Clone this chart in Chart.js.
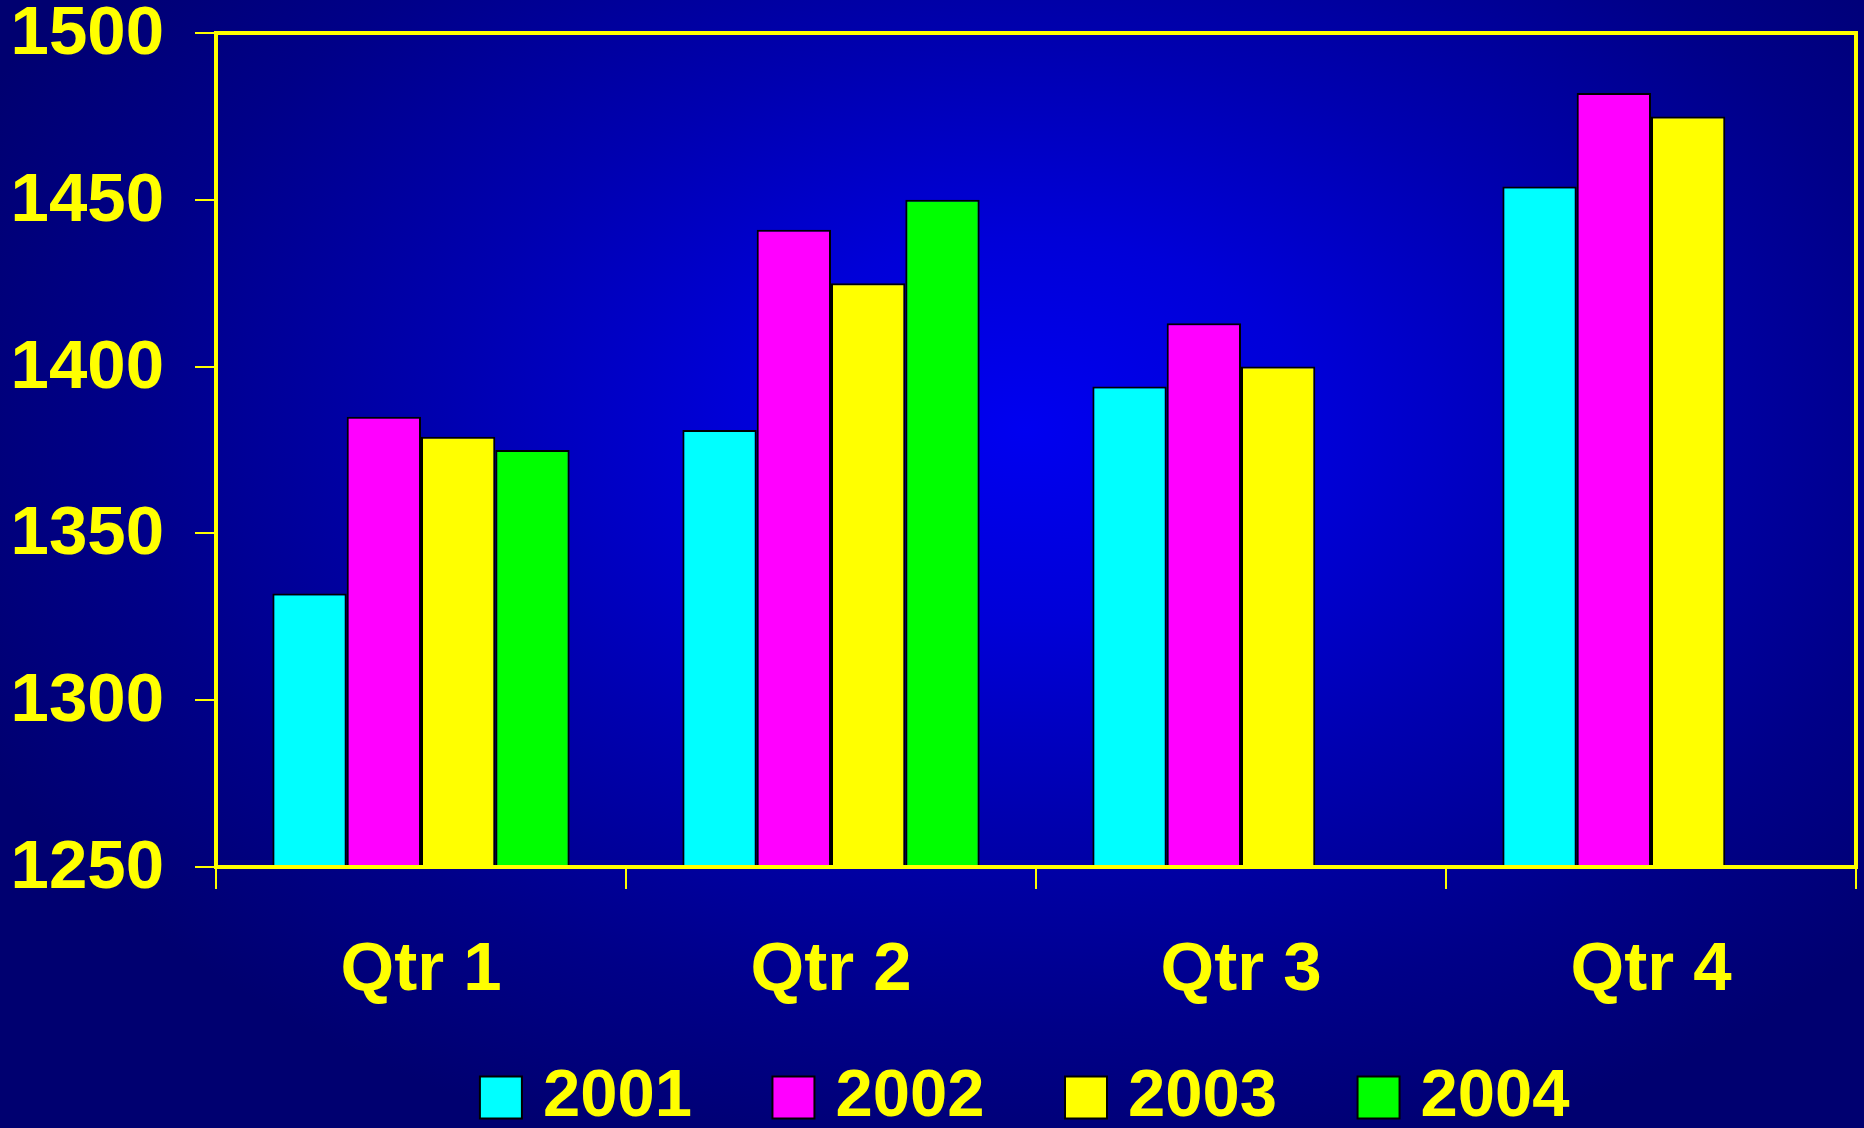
<!DOCTYPE html>
<html>
<head>
<meta charset="utf-8">
<script src="https://cdn.jsdelivr.net/npm/chart.js@4/dist/chart.umd.min.js"></script>
<style>
  html, body { margin: 0; padding: 0; width: 1864px; height: 1128px; overflow: hidden; }
  body {
    background: radial-gradient(ellipse 62% 68% at 55% 38%, #0000f0 0%, #0000d8 25%, #0000b0 50%, #000088 78%, #000070 100%);
  }
  #wrap { position: absolute; left: 0; top: 0; width: 1864px; height: 1128px; }
</style>
</head>
<body>
<div id="wrap"><canvas id="c" width="1864" height="1128"></canvas></div>
<script>
const categories = ['Qtr 1', 'Qtr 2', 'Qtr 3', 'Qtr 4'];
const seriesNames = ['2001', '2002', '2003', '2004'];
const values2001 = [1332, 1381, 1394, 1454];
const values2002 = [1385, 1441, 1413, 1482];
const values2003 = [1379, 1425, 1400, 1475];
const values2004 = [1375, 1450, null, null];
const yMin = 1250;
const yMax = 1500;
const yStep = 50;

const colors = ['#00FFFF', '#FF00FF', '#FFFF00', '#00FF00'];
const seriesValues = [values2001, values2002, values2003, values2004];
const YELLOW = '#FFFF00';
const FONT = '"Liberation Sans", Arial, sans-serif';
const FS = 69;
const LFS = 67;

const frame = {
  id: 'frame',
  afterDatasetsDraw(chart) {
    const a = chart.chartArea, ctx = chart.ctx;
    ctx.save();
    ctx.strokeStyle = YELLOW;
    ctx.lineWidth = 4;
    ctx.strokeRect(a.left, a.top, a.right - a.left, a.bottom - a.top);
    ctx.restore();
  }
};

const legendShift = {
  id: 'legendShift',
  afterLayout(chart) {
    const l = chart.legend;
    if (!l) return;
    l.top -= 36; l.bottom -= 36;
    l.left -= 5; l.right -= 5;
  }
};

new Chart(document.getElementById('c'), {
  type: 'bar',
  data: {
    labels: categories,
    datasets: seriesNames.map((n, i) => ({
      label: n,
      data: seriesValues[i],
      backgroundColor: colors[i],
      borderColor: '#000000',
      borderWidth: 2,
      barPercentage: 1.0,
      categoryPercentage: 0.725
    }))
  },
  options: {
    responsive: false,
    animation: false,
    devicePixelRatio: 1,
    layout: { padding: { left: 11, right: 8, top: 0, bottom: -49 } },
    plugins: {
      tooltip: { enabled: false },
      legend: {
        position: 'bottom',
        fullSize: false,
        labels: {
          usePointStyle: true,
          pointStyle: 'rect',
          boxWidth: 17,
          boxHeight: 42,
          padding: 93,
          color: YELLOW,
          font: { family: FONT, size: LFS, weight: 'bold' }
        }
      }
    },
    scales: {
      x: {
        grid: { display: true, drawOnChartArea: false, drawTicks: true, tickLength: 22, color: YELLOW, lineWidth: 2, offset: true },
        border: { display: false },
        ticks: {
          color: YELLOW,
          padding: 47,
          maxRotation: 0,
          font: { family: FONT, size: FS, weight: 'bold', lineHeight: 1 }
        },
        afterFit(scale) { scale.height = 140; }
      },
      y: {
        min: yMin,
        max: yMax,
        grid: { display: true, drawOnChartArea: false, drawTicks: true, tickLength: 21, color: YELLOW, lineWidth: 2 },
        border: { display: false },
        ticks: {
          stepSize: yStep,
          color: YELLOW,
          padding: 31,
          labelOffset: 2,
          callback: (v) => String(v),
          font: { family: FONT, size: FS, weight: 'bold', lineHeight: 1 }
        },
        afterFit(scale) {
          scale.width = 205;
          scale.paddingTop = 33;
          scale.paddingBottom = 33;
        }
      }
    }
  },
  plugins: [frame, legendShift]
});
</script>
</body>
</html>
